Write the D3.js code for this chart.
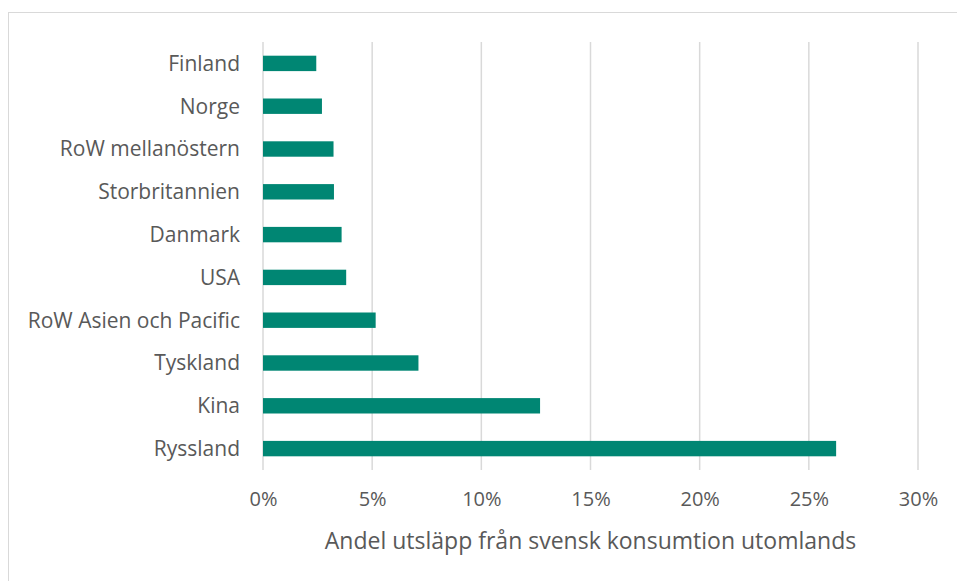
<!DOCTYPE html>
<html>
<head>
<meta charset="utf-8">
<script src="https://cdn.jsdelivr.net/npm/d3@7"></script>
<style>
  body { margin: 0; background: #fff; }
  svg { display: block; font-family: "Open Sans", sans-serif; }
</style>
</head>
<body>
<div id="chart"></div>
<script>
// länder uppifrån och ned
const countries = ["Finland", "Norge", "RoW mellanöstern", "Storbritannien", "Danmark",
                   "USA", "RoW Asien och Pacific", "Tyskland", "Kina", "Ryssland"];
// andel utsläpp (%)
const shares = [2.44, 2.70, 3.23, 3.25, 3.60, 3.81, 5.16, 7.12, 12.69, 26.25];
const xTicks = [0, 5, 10, 15, 20, 25, 30];
const xTitle = "Andel utsläpp från svensk konsumtion utomlands";

const width = 957, height = 581;
const margin = { top: 42, right: 39, bottom: 111, left: 263 };

const svg = d3.select("#chart").append("svg")
    .attr("width", width)
    .attr("height", height);

// ram runt diagrammet
svg.append("rect")
    .attr("x", 8.5).attr("y", 12.5)
    .attr("width", width + 10).attr("height", height + 10)
    .attr("fill", "none")
    .attr("stroke", "#d9d9d9");

const x = d3.scaleLinear()
    .domain([0, 30])
    .range([margin.left, width - margin.right]);

const y = d3.scaleBand()
    .domain(countries)
    .range([margin.top, height - margin.bottom])
    .paddingInner(0.64)
    .paddingOuter(0.32);

// stödlinjer
svg.append("g")
    .selectAll("line")
    .data(xTicks)
    .join("line")
    .attr("x1", d => x(d)).attr("x2", d => x(d))
    .attr("y1", margin.top).attr("y2", height - margin.bottom)
    .attr("stroke", "#d9d9d9")
    .attr("stroke-width", 1.5);

// staplar
svg.append("g")
    .selectAll("rect")
    .data(countries)
    .join("rect")
    .attr("x", x(0))
    .attr("y", d => y(d))
    .attr("width", (d, i) => x(shares[i]) - x(0))
    .attr("height", y.bandwidth())
    .attr("fill", "#008673");

// kategorietiketter
svg.append("g")
    .selectAll("text")
    .data(countries)
    .join("text")
    .attr("x", 240)
    .attr("y", d => y(d) + y.bandwidth() / 2)
    .attr("dy", "0.35em")
    .attr("text-anchor", "end")
    .attr("fill", "#595959")
    .style("font-size", "21px")
    .text(d => d);

// x-axel
const xAxis = svg.append("g")
    .attr("transform", `translate(0,${height - margin.bottom})`)
    .call(d3.axisBottom(x).tickValues(xTicks).tickFormat(d => d + "%").tickSize(0).tickPadding(22));
xAxis.select(".domain").remove();
xAxis.selectAll("text")
    .attr("fill", "#595959")
    .style("font-size", "20px")
    .style("font-family", "Open Sans, sans-serif");

svg.append("text")
    .attr("x", (323 + 858) / 2)
    .attr("y", 549)
    .attr("text-anchor", "middle")
    .attr("fill", "#595959")
    .style("font-size", "23px")
    .text(xTitle);
</script>
</body>
</html>
